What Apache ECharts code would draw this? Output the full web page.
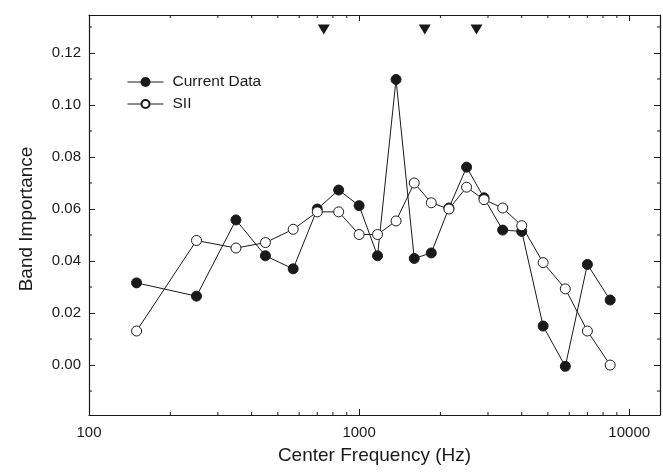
<!DOCTYPE html>
<html><head><meta charset="utf-8">
<script src="https://cdn.jsdelivr.net/npm/echarts@6/dist/echarts.min.js"></script>
<style>html,body{margin:0;padding:0;background:#fff}#c{width:663px;height:475px}</style>
</head><body><div id="c"></div>
<script>
const freqs = [150,250,350,450,570,700,840,1000,1170,1370,1600,1850,2150,2500,2900,3400,4000,4800,5800,7000,8500];
const currentData = [0.0316,0.0265,0.0558,0.0420,0.0370,0.0600,0.0673,0.0613,0.0420,0.1098,0.0410,0.0431,0.0604,0.0761,0.0643,0.0519,0.0514,0.0150,-0.0005,0.0387,0.0250];
const siiData = [0.0131,0.0479,0.0450,0.0471,0.0522,0.0589,0.0589,0.0502,0.0502,0.0554,0.0700,0.0624,0.0600,0.0684,0.0636,0.0604,0.0536,0.0394,0.0293,0.0131,0.0000];
const markerFreqs = [740,1750,2720];
const markerLevel = 0.129;
const xTickLabels = [100,1000,10000];
const xMinorTicks = [200,300,400,500,600,700,800,900,2000,3000,4000,5000,6000,7000,8000,9000];
const yMinorTicks = [-0.01,0.01,0.03,0.05,0.07,0.09,0.11,0.13];

const FONT = "'Liberation Sans', Arial, sans-serif";
const INK = '#1a1a1a';
const X_MIN = 100, X_MAX = 13000, Y_MIN = -0.0192, Y_MAX = 0.1346;

function pairs(xs, ys) { return xs.map((x, i) => [x, ys[i]]); }

function minorXRender(params, api) {
  const x = api.coord([api.value(0), 0])[0];
  const cs = params.coordSys;
  const b = cs.y + cs.height, t = cs.y;
  return { type: 'group', children: [
    { type: 'line', shape: { x1: x, y1: b, x2: x, y2: b - 3 }, style: { stroke: INK, lineWidth: 1 } },
    { type: 'line', shape: { x1: x, y1: t, x2: x, y2: t + 3 }, style: { stroke: INK, lineWidth: 1 } }
  ]};
}
function minorYRender(params, api) {
  const y = api.coord([1000, api.value(1)])[1];
  const cs = params.coordSys;
  const l = cs.x, r = cs.x + cs.width;
  return { type: 'group', children: [
    { type: 'line', shape: { x1: l, y1: y, x2: l + 3, y2: y }, style: { stroke: INK, lineWidth: 1 } },
    { type: 'line', shape: { x1: r, y1: y, x2: r - 3, y2: y }, style: { stroke: INK, lineWidth: 1 } }
  ]};
}

const axisLine = { show: true, onZero: false, lineStyle: { color: INK, width: 1.2 } };
const axisTick = { show: true, inside: true, length: 6, lineStyle: { color: INK, width: 1 } };

const chart = echarts.init(document.getElementById('c'), null, { renderer: 'canvas' });
chart.setOption({
  animation: false,
  textStyle: { fontFamily: FONT },
  grid: { left: 89, right: 3, top: 15, bottom: 60, containLabel: false },
  legend: {
    data: ['Current Data', 'SII'],
    orient: 'vertical', left: 127, top: 74, padding: 0,
    itemWidth: 36, itemHeight: 10, itemGap: 6,
    lineStyle: { width: 1 },
    textStyle: { fontFamily: FONT, fontSize: 15.5, color: INK, padding: [0, 0, 0, 4] }
  },
  xAxis: [{
    type: 'log', min: X_MIN, max: X_MAX, logBase: 10,
    name: 'Center Frequency (Hz)', nameLocation: 'middle', nameGap: 31,
    nameTextStyle: { fontFamily: FONT, fontSize: 19, color: INK },
    axisLine, axisTick, splitLine: { show: false }, minorTick: { show: false },
    axisLabel: {
      margin: 10, fontSize: 15, color: INK, fontFamily: FONT,
      showMinLabel: true, showMaxLabel: false,
      formatter: v => { const r = Math.round(v); return xTickLabels.includes(r) ? String(r) : ''; }
    }
  }, {
    type: 'log', min: X_MIN, max: X_MAX, position: 'top',
    axisLine, axisTick, splitLine: { show: false }, axisLabel: { show: false }
  }],
  yAxis: [{
    type: 'value', min: Y_MIN, max: Y_MAX, splitNumber: 8,
    name: 'Band Importance', nameLocation: 'middle', nameGap: 53,
    nameTextStyle: { fontFamily: FONT, fontSize: 19, color: INK, padding: [0, 8, 0, 0] },
    axisLine, axisTick, splitLine: { show: false },
    axisLabel: {
      margin: 8, fontSize: 15, color: INK, fontFamily: FONT,
      showMinLabel: false, showMaxLabel: false,
      formatter: v => (Math.abs(v) < 1e-9 ? 0 : v).toFixed(2)
    }
  }, {
    type: 'value', min: Y_MIN, max: Y_MAX, splitNumber: 8, position: 'right',
    axisLine, axisTick, splitLine: { show: false }, axisLabel: { show: false }
  }],
  series: [
    {
      name: 'Current Data', type: 'line', data: pairs(freqs, currentData),
      symbol: 'circle', symbolSize: 10, showAllSymbol: true,
      lineStyle: { color: INK, width: 1 },
      itemStyle: { color: INK, borderColor: INK, borderWidth: 1 }, z: 3
    },
    {
      name: 'SII', type: 'line', data: pairs(freqs, siiData),
      symbol: 'circle', symbolSize: 10, showAllSymbol: true,
      lineStyle: { color: INK, width: 1 },
      itemStyle: { color: '#ffffff', borderColor: INK, borderWidth: 1 }, z: 4
    },
    {
      name: 'markers', type: 'scatter', data: markerFreqs.map(f => [f, markerLevel]),
      symbol: 'triangle', symbolRotate: 180, symbolSize: [12, 10],
      itemStyle: { color: INK, opacity: 1 }, z: 5
    },
    {
      name: 'xminor', type: 'custom', renderItem: minorXRender,
      data: xMinorTicks.map(f => [f, 0]), silent: true, z: 2
    },
    {
      name: 'yminor', type: 'custom', renderItem: minorYRender,
      data: yMinorTicks.map(v => [1000, v]), silent: true, z: 2
    }
  ]
});
</script>
</body></html>
